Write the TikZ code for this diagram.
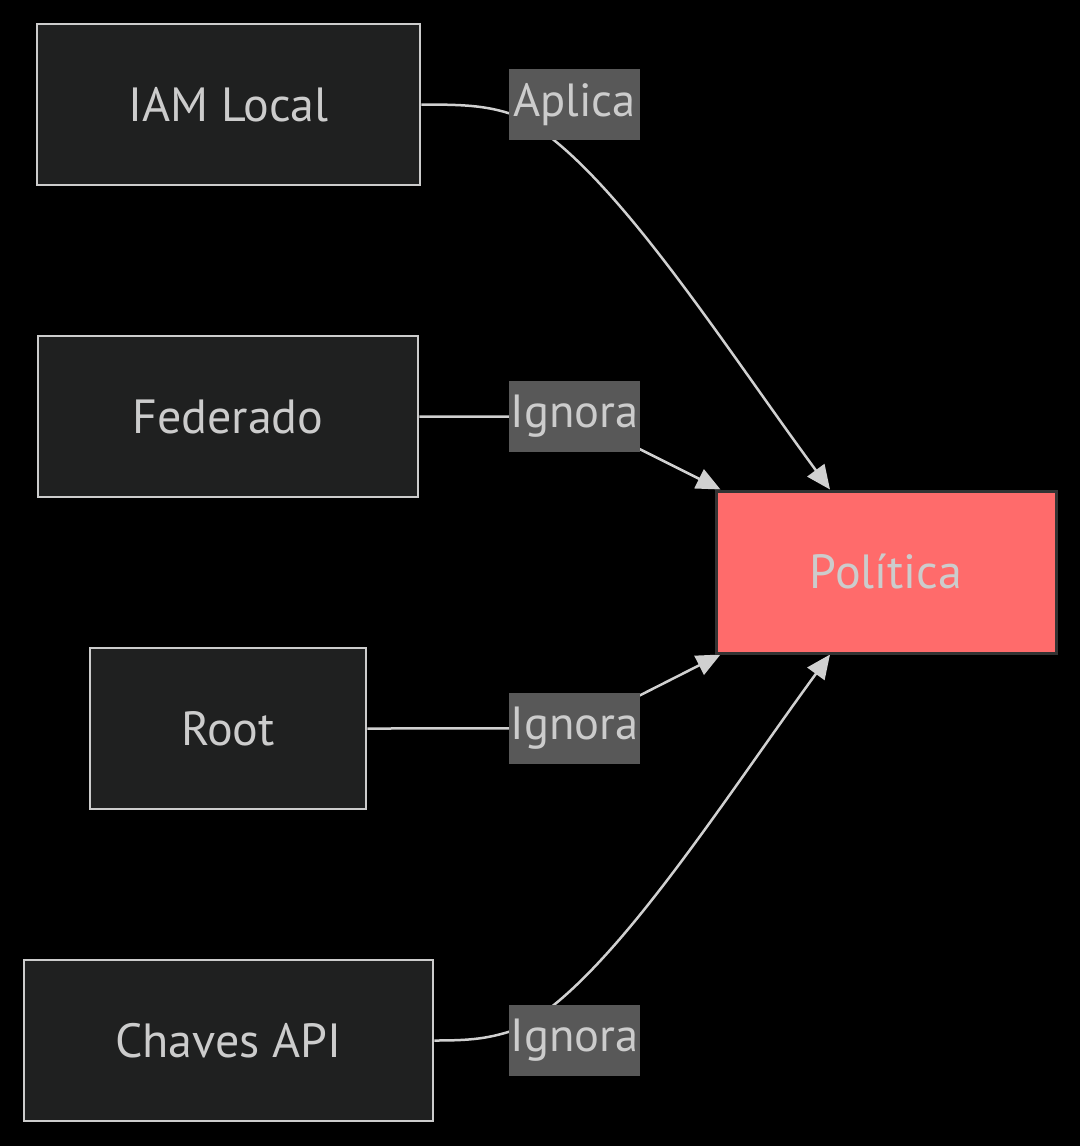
\documentclass[tikz,border=0pt]{standalone}
\usepackage{fontspec}
\setmainfont{PT Sans}
\usetikzlibrary{arrows.meta}
\pgfdeclarelayer{bottom}
\pgfdeclarelayer{background}
\pgfsetlayers{bottom,background,main}
\definecolor{bgc}{HTML}{000000}
\definecolor{boxfill}{HTML}{1F2020}
\definecolor{boxline}{HTML}{CCCCCC}
\definecolor{txt}{HTML}{CCCCCC}
\definecolor{lblfill}{HTML}{585858}
\definecolor{polfill}{HTML}{FF6B6B}
\definecolor{polline}{HTML}{333333}
\definecolor{edge}{HTML}{D0D0D0}
\tikzset{
  x=1pt, y=-1pt,
  srcbox/.style={draw=boxline, fill=boxfill, line width=2.5pt, text=txt, minimum height=161pt, inner sep=0pt, font=\fontsize{48}{54}\selectfont},
  polbox/.style={draw=polline, fill=polfill, line width=3pt, text=txt, minimum width=340pt, minimum height=162pt, inner sep=0pt, font=\fontsize{48}{54}\selectfont},
  lbl/.style={fill=lblfill, text=txt, minimum width=131pt, minimum height=71pt, inner sep=0pt, font=\fontsize{46.5}{54}\selectfont},
  conn/.style={draw=edge, line width=2.5pt, -{Triangle[length=24pt,width=21pt]}},
  connplain/.style={draw=edge, line width=2.5pt},
}
\begin{document}
\begin{tikzpicture}
\begin{pgfonlayer}{bottom}
\fill[bgc] (0,0) rectangle (1080,1146);
\end{pgfonlayer}
\useasboundingbox (0,0) rectangle (1080,1146);
\node[srcbox, minimum width=383pt] (iam) at (228.5,104.5) {IAM Local};
\node[srcbox, minimum width=380pt] (fed) at (228,416.5) {Federado};
\node[srcbox, minimum width=276pt] (root) at (228,728.5) {Root};
\node[srcbox, minimum width=409pt] (api) at (228.5,1040.5) {Chaves API};
\node[polbox] (pol) at (886,572) {Política};
\node[lbl] (l1) at (574.5,104.5) {Aplica};
\node[lbl] (l2) at (574.5,416.5) {Ignora};
\node[lbl] (l3) at (574.5,728.5) {Ignora};
\node[lbl] (l4) at (574.5,1040.5) {Ignora};
\begin{pgfonlayer}{background}
\draw[conn] (iam.east) .. controls (470,104.5) and (490,106) .. (520,117) .. controls (610,165) and (720,340) .. ([xshift=-56pt]pol.north);
\draw[connplain] (fed.east) .. controls (480,416.5) and (500,417) .. (l2.center);
\draw[conn] (l2.center) -- ([xshift=6pt]pol.north west);
\draw[connplain] (root.east) .. controls (470,728.5) and (490,728) .. (l3.center);
\draw[conn] (l3.center) -- ([xshift=6pt]pol.south west);
\draw[conn] (api.east) .. controls (470,1040.5) and (490,1039) .. (520,1028) .. controls (610,980) and (720,805) .. ([xshift=-56pt]pol.south);
\end{pgfonlayer}
\end{tikzpicture}
\end{document}
